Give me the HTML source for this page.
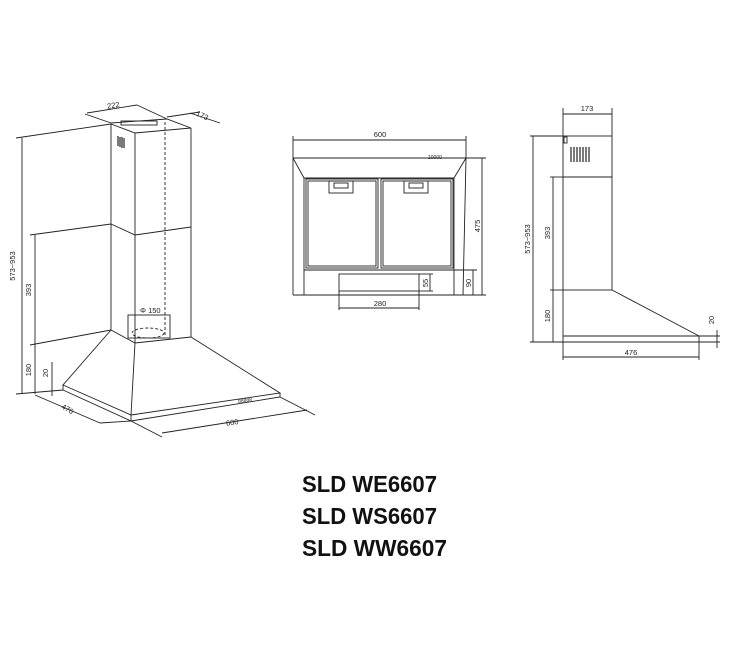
<!DOCTYPE html>
<html><head><meta charset="utf-8"><style>html,body{margin:0;padding:0;background:#fff;width:739px;height:650px;overflow:hidden}</style></head>
<body>
<svg width="739" height="650" viewBox="0 0 739 650" xmlns="http://www.w3.org/2000/svg" font-family="Liberation Sans, sans-serif">
<g stroke="#222" stroke-width="0.9" fill="none">
<polyline points="111,124 111,330"/>
<polyline points="135,133 135,343"/>
<polyline points="191,128 191,337"/>
<polyline points="111,124 135,133 191,128"/>
<polyline points="111,123 167,119 191,128"/>
<polyline points="111,224 135,235 191,227"/>
<polyline points="111,330 135,343 191,337"/>
<line x1="165" y1="122" x2="165" y2="337" stroke-dasharray="3,2"/>
<rect x="121" y="121" width="36" height="4" />
<g stroke-width="1.2"><line x1="118" y1="136" x2="118" y2="146"/><line x1="120" y1="137" x2="120" y2="147"/><line x1="122" y1="137" x2="122" y2="148"/><line x1="124" y1="138" x2="124" y2="148"/></g>
<polyline points="111,330 63,385 131,415 280,393 191,337"/>
<line x1="135" y1="343" x2="131" y2="415"/>
<polyline points="63,385 63,390 131,421 280,397 280,393"/>
<line x1="131" y1="415" x2="131" y2="421"/>
<rect x="128" y="315" width="42" height="23"/>
<ellipse cx="148" cy="333" rx="16" ry="5" stroke-dasharray="3,2"/>
<line x1="22" y1="138" x2="22" y2="394"/>
<line x1="16" y1="138" x2="111" y2="124"/>
<line x1="35" y1="235" x2="35" y2="394"/>
<line x1="30" y1="235" x2="111" y2="224"/>
<line x1="30" y1="345" x2="111" y2="330"/>
<line x1="16" y1="394" x2="63" y2="390"/>
<line x1="52" y1="362" x2="52" y2="396"/>
<line x1="87" y1="113" x2="137" y2="105"/>
<line x1="85" y1="114" x2="111" y2="123"/>
<line x1="137" y1="105" x2="167" y2="119"/>
<line x1="190" y1="113" x2="220" y2="123"/>
<line x1="167" y1="117" x2="200" y2="112"/>
<line x1="35" y1="395" x2="100" y2="423"/>
<line x1="100" y1="423" x2="131" y2="421"/>
<line x1="162" y1="433" x2="307" y2="410"/>
<line x1="131" y1="421" x2="162" y2="437"/>
<line x1="280" y1="397" x2="315" y2="415"/>

<line x1="293" y1="140" x2="466" y2="140"/>
<line x1="293" y1="136" x2="293" y2="158"/><line x1="466" y1="136" x2="466" y2="158"/>
<polyline points="293,158 466,158"/>
<line x1="293" y1="158" x2="304" y2="178"/><line x1="466" y1="158" x2="454" y2="178"/>
<line x1="304" y1="178" x2="454" y2="178"/>
<line x1="293" y1="158" x2="293" y2="295"/>
<line x1="304" y1="178" x2="304" y2="295"/>
<line x1="466" y1="158" x2="463" y2="295"/>
<line x1="454" y1="178" x2="454" y2="295"/>
<line x1="293" y1="295" x2="463" y2="295"/>
<rect x="306" y="179" width="72" height="89"/><rect x="308" y="181" width="68" height="85"/>
<rect x="381" y="179" width="72" height="89"/><rect x="383" y="181" width="68" height="85"/>
<rect x="329" y="181" width="24" height="12"/><rect x="334" y="183" width="14" height="5"/>
<rect x="404" y="181" width="24" height="12"/><rect x="409" y="183" width="14" height="5"/>
<line x1="304" y1="270" x2="454" y2="270"/>
<rect x="339" y="274" width="80" height="17"/>
<line x1="339" y1="291" x2="339" y2="310"/><line x1="419" y1="291" x2="419" y2="310"/>
<line x1="339" y1="308" x2="419" y2="308"/>
<line x1="430" y1="274" x2="430" y2="291"/><line x1="419" y1="274" x2="433" y2="274"/><line x1="419" y1="291" x2="433" y2="291"/>
<line x1="482" y1="158" x2="482" y2="295"/><line x1="466" y1="158" x2="486" y2="158"/><line x1="463" y1="295" x2="486" y2="295"/>
<line x1="473" y1="270" x2="473" y2="295"/><line x1="454" y1="270" x2="477" y2="270"/>

<line x1="563" y1="114" x2="612" y2="114"/>
<line x1="563" y1="108" x2="563" y2="136"/><line x1="612" y1="108" x2="612" y2="136"/>
<rect x="563" y="136" width="49" height="154"/>
<line x1="563" y1="177" x2="612" y2="177"/>
<g stroke-width="1.2"><line x1="571" y1="147" x2="571" y2="162"/><line x1="574" y1="147" x2="574" y2="162"/><line x1="577" y1="147" x2="577" y2="162"/><line x1="580" y1="147" x2="580" y2="162"/><line x1="583" y1="147" x2="583" y2="162"/><line x1="586" y1="147" x2="586" y2="162"/><line x1="589" y1="147" x2="589" y2="162"/></g>
<rect x="564" y="137" width="3" height="6"/>
<line x1="612" y1="290" x2="699" y2="336"/>
<line x1="563" y1="290" x2="563" y2="342"/>
<line x1="563" y1="336" x2="699" y2="336"/>
<line x1="563" y1="342" x2="699" y2="342"/>
<line x1="699" y1="336" x2="699" y2="342"/>
<line x1="533" y1="136" x2="533" y2="342"/>
<line x1="530" y1="136" x2="563" y2="136"/><line x1="530" y1="342" x2="563" y2="342"/>
<line x1="553" y1="177" x2="553" y2="342"/>
<line x1="550" y1="177" x2="563" y2="177"/><line x1="550" y1="290" x2="563" y2="290"/>
<line x1="563" y1="342" x2="563" y2="360"/><line x1="699" y1="342" x2="699" y2="360"/>
<line x1="563" y1="357" x2="699" y2="357"/>
<line x1="717" y1="330" x2="717" y2="348"/><line x1="699" y1="336" x2="720" y2="336"/><line x1="699" y1="342" x2="720" y2="342"/>
</g>
<g font-size="7.5" fill="#222">
<text x="107" y="108" transform="rotate(-9 112 105)">222</text>
<text x="196" y="117" transform="rotate(25 200 115)">173</text>
<text x="15" y="266" transform="rotate(-90 15 266)" text-anchor="middle">573~953</text>
<text x="31" y="290" transform="rotate(-90 31 290)" text-anchor="middle">393</text>
<text x="31" y="370" transform="rotate(-90 31 370)" text-anchor="middle">180</text>
<text x="48" y="373" transform="rotate(-90 48 373)" text-anchor="middle">20</text>
<text x="62" y="410" transform="rotate(30 65 407)">476</text>
<text x="226" y="425" transform="rotate(-8 232 423)">600</text>
<text x="140" y="313">Φ 150</text>
<text x="238" y="402" font-size="5" transform="rotate(-8 245 400)">88888</text>
<text x="380" y="137" text-anchor="middle">600</text>
<text x="428" y="159" font-size="5">10000</text>
<text x="380" y="306" text-anchor="middle">280</text>
<text x="428" y="283" transform="rotate(-90 428 283)" text-anchor="middle">55</text>
<text x="480" y="226" transform="rotate(-90 480 226)" text-anchor="middle">475</text>
<text x="471" y="283" transform="rotate(-90 471 283)" text-anchor="middle">90</text>
<text x="587" y="111" text-anchor="middle">173</text>
<text x="530" y="239" transform="rotate(-90 530 239)" text-anchor="middle">573~953</text>
<text x="550" y="233" transform="rotate(-90 550 233)" text-anchor="middle">393</text>
<text x="550" y="316" transform="rotate(-90 550 316)" text-anchor="middle">180</text>
<text x="714" y="320" transform="rotate(-90 714 320)" text-anchor="middle">20</text>
<text x="631" y="355" text-anchor="middle">476</text>
</g>
<g font-size="23" font-weight="bold" fill="#111">
<text x="302" y="492" textLength="135" lengthAdjust="spacingAndGlyphs">SLD WE6607</text>
<text x="302" y="524" textLength="135" lengthAdjust="spacingAndGlyphs">SLD WS6607</text>
<text x="302" y="556" textLength="145" lengthAdjust="spacingAndGlyphs">SLD WW6607</text>
</g>
</svg>
</body></html>
